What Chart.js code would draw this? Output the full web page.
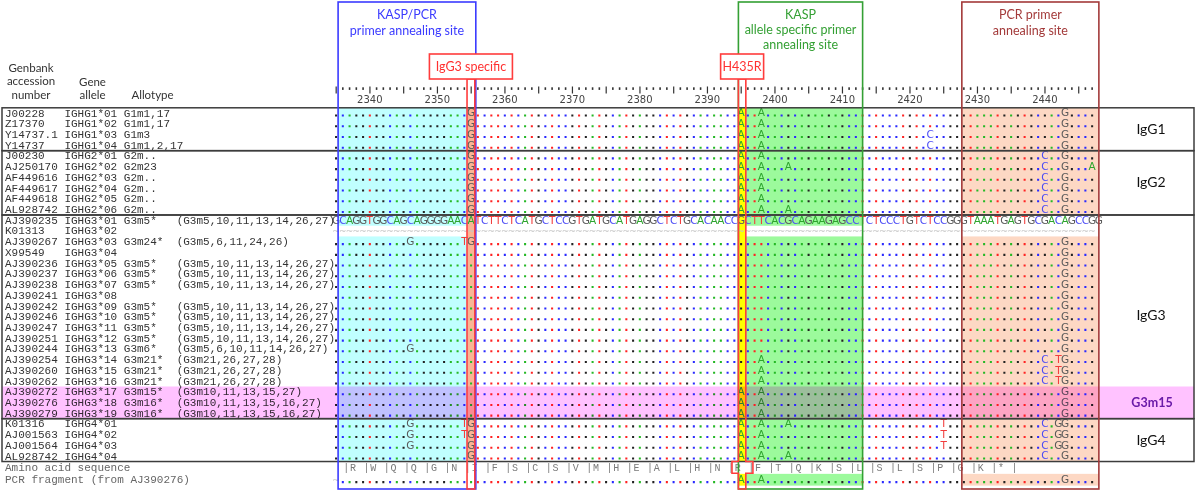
<!DOCTYPE html>
<html>
<head>
<meta charset="utf-8">
<title>IGHG alignment</title>
<script src="https://cdn.jsdelivr.net/npm/chart.js@4.4.1/dist/chart.umd.min.js"></script>
<style>
  html, body { margin: 0; padding: 0; background: #fff; }
  #wrap { width: 1196px; height: 492px; }
</style>
</head>
<body>
<div id="wrap"><canvas id="chart"></canvas></div>
<script>
// reference sequence (AJ390235 / IGHG3*01), first base sits at position 2335
var refSeq = "GCAGGTGGCAGCAGGGGAACATCTTCTCATGCTCCGTGATGCATGAGGCTCTGCACAACCGCTTCACGCAGAAGAGCCTCTCCCTGTCTCCGGGTAAATGAGTGCGACAGCCGG";
var firstPos = 2335;
var lastDotPos = 2447;
var rulerLabels = [2340, 2350, 2360, 2370, 2380, 2390, 2400, 2410, 2420, 2430, 2440];

var accessions = ["J00228", "Z17370", "Y14737.1", "Y14737",
  "J00230", "AJ250170", "AF449616", "AF449617", "AF449618", "AL928742",
  "AJ390235", "K01313", "AJ390267", "X99549", "AJ390236", "AJ390237", "AJ390238", "AJ390241",
  "AJ390242", "AJ390246", "AJ390247", "AJ390251", "AJ390244", "AJ390254", "AJ390260", "AJ390262",
  "AJ390272", "AJ390276", "AJ390279",
  "K01316", "AJ001563", "AJ001564", "AL928742"];
var alleles = ["IGHG1*01", "IGHG1*02", "IGHG1*03", "IGHG1*04",
  "IGHG2*01", "IGHG2*02", "IGHG2*03", "IGHG2*04", "IGHG2*05", "IGHG2*06",
  "IGHG3*01", "IGHG3*02", "IGHG3*03", "IGHG3*04", "IGHG3*05", "IGHG3*06", "IGHG3*07", "IGHG3*08",
  "IGHG3*09", "IGHG3*10", "IGHG3*11", "IGHG3*12", "IGHG3*13", "IGHG3*14", "IGHG3*15", "IGHG3*16",
  "IGHG3*17", "IGHG3*18", "IGHG3*19",
  "IGHG4*01", "IGHG4*02", "IGHG4*03", "IGHG4*04"];
var allotypes = ["G1m1,17", "G1m1,17", "G1m3", "G1m1,2,17",
  "G2m..", "G2m23", "G2m..", "G2m..", "G2m..", "G2m..",
  "G3m5*", "", "G3m24*", "", "G3m5*", "G3m5*", "G3m5*", "",
  "G3m5*", "G3m5*", "G3m5*", "G3m5*", "G3m6*", "G3m21*", "G3m21*", "G3m21*",
  "G3m15*", "G3m16*", "G3m16*",
  "", "", "", ""];
var allotypeSets = ["", "", "", "", "", "", "", "", "", "",
  "(G3m5,10,11,13,14,26,27)", "", "(G3m5,6,11,24,26)", "",
  "(G3m5,10,11,13,14,26,27)", "(G3m5,10,11,13,14,26,27)", "(G3m5,10,11,13,14,26,27)", "",
  "(G3m5,10,11,13,14,26,27)", "(G3m5,10,11,13,14,26,27)", "(G3m5,10,11,13,14,26,27)",
  "(G3m5,10,11,13,14,26,27)", "(G3m5,6,10,11,14,26,27)",
  "(G3m21,26,27,28)", "(G3m21,26,27,28)", "(G3m21,26,27,28)",
  "(G3m10,11,13,15,27)", "(G3m10,11,13,15,16,27)", "(G3m10,11,13,15,16,27)",
  "", "", "", ""];
// bases that differ from the reference: position + base
var variants = [
  "2355G 2395A 2398A 2443G",
  "2355G 2395A 2398A 2443G",
  "2355G 2395A 2398A 2423C 2443G",
  "2355G 2395A 2398A 2423C 2443G",
  "2355G 2395A 2398A 2440C 2443G",
  "2355G 2395A 2398A 2402A 2440C 2443G 2447A",
  "2355G 2395A 2398A 2440C 2443G",
  "2355G 2395A 2398A 2440C 2443G",
  "2355G 2395A 2398A 2440C 2443G",
  "2355G 2395A 2398A 2402A 2440C 2443G",
  "",
  "",
  "2346G 2354T 2355G 2443G",
  "2443G", "2443G", "2443G", "2443G", "2443G", "2443G", "2443G", "2443G", "2443G",
  "2346G 2443G",
  "2398A 2440C 2442T 2443G",
  "2398A 2440C 2442T 2443G",
  "2398A 2440C 2442T 2443G",
  "2395A 2398A 2443G",
  "2395A 2398A 2443G",
  "2395A 2398A 2443G",
  "2346G 2354T 2355G 2395A 2398A 2402A 2425T 2440C 2442G 2443G",
  "2346G 2354T 2355G 2395A 2398A 2425T 2440C 2442G 2443G",
  "2346G 2355G 2395A 2398A 2425T 2440C 2442G 2443G",
  "2355G 2395A 2398A 2402A 2440C 2443G"];
var refRow = 10, gapRow = 11;
var groupNames = ["IgG1", "IgG2", "IgG3", "IgG4"];
var groupFirst = [0, 4, 10, 29];
var groupLast = [3, 9, 28, 32];
var g3m15First = 26, g3m15Last = 28;

var aminoAcids = "RWQQGNIFSCSVMHEALHNRFTQKSLSLSPGK*";
var aminoStart = 2337;
var pcrStart = 2336;
var pcrVariants = "2395A 2398A 2443G";

// highlighted sites (sequence coordinates)
var kaspPcrSite = [2335.3, 2355.7];
var igg3Site = [2354.5, 2355.5];
var h435rSite = [2394.6, 2395.6];
var kaspAlleleSite = [2394.6, 2413.0];
var pcrPrimerSite = [2427.7, 2448.0];

// layout
var aminoRow = 33.1, pcrRow = 34.2, dotDrop = 0.22;
var letterColor = { A: "#2ea52e", C: "#4b4bf5", G: "#5a5a5a", T: "#f23c3c" };
var dotColor = { A: "#25b825", C: "#2a2aff", G: "#222222", T: "#ff2222" };

function parseVar(s) {
  var out = {};
  if (!s) return out;
  s.split(" ").forEach(function (t) { out[+t.slice(0, 4)] = t.slice(4); });
  return out;
}

var dotPoints = [], dotColors = [];
for (var r = 0; r < accessions.length; r++) {
  if (r === refRow || r === gapRow) continue;
  var v = parseVar(variants[r]);
  for (var p = firstPos; p <= lastDotPos; p++) {
    if (v[p]) continue;
    dotPoints.push({ x: p, y: r + dotDrop });
    dotColors.push(dotColor[refSeq[p - firstPos]]);
  }
}
var pv = parseVar(pcrVariants);
for (var q = pcrStart; q <= lastDotPos; q++) {
  if (pv[q]) continue;
  dotPoints.push({ x: q, y: pcrRow + dotDrop });
  dotColors.push(dotColor[refSeq[q - firstPos]]);
}

var alignPlugin = {
  id: "align",
  beforeDatasetsDraw: function (chart) {
    var ctx = chart.ctx;
    var X = function (val) { return chart.scales.x.getPixelForValue(val); };
    var Y = function (val) { return chart.scales.y.getPixelForValue(val); };
    function band(span, r0, r1, col) {
      ctx.fillStyle = col;
      ctx.fillRect(X(span[0]), Y(r0), X(span[1]) - X(span[0]), Y(r1) - Y(r0));
    }
    ctx.save();
    // background of the three primer sites (no data row K01313 stays white)
    var cyanStart = [kaspPcrSite[0], igg3Site[0]];
    var greenStart = [h435rSite[1], kaspAlleleSite[1]];
    band(cyanStart, -0.5, gapRow - 0.5, "#c0ffff");
    band(cyanStart, gapRow + 0.5, 32.5, "#c0ffff");
    band(greenStart, -0.5, gapRow - 0.5, "#9cfa9c");
    band(greenStart, gapRow + 0.5, 32.5, "#9cfa9c");
    band(greenStart, pcrRow - 0.55, pcrRow + 0.55, "#9cfa9c");
    band(pcrPrimerSite, -0.5, refRow - 0.5, "#fdd8c4");
    band(pcrPrimerSite, gapRow + 0.5, 32.5, "#fdd8c4");
    band(pcrPrimerSite, pcrRow - 0.55, pcrRow + 0.55, "#fdd8c4");
    band(igg3Site, -0.5, 32.5, "#f9b594");
    band(h435rSite, -0.5, 32.5, "#ffff00");
    band(h435rSite, pcrRow - 0.55, pcrRow + 0.55, "#ffff00");
    ctx.restore();
  },
  afterDatasetsDraw: function (chart) {
    var ctx = chart.ctx;
    var X = function (val) { return chart.scales.x.getPixelForValue(val); };
    var Y = function (val) { return chart.scales.y.getPixelForValue(val); };
    ctx.save();
    ctx.textBaseline = "middle";
    ctx.textAlign = "center";

    // bases that differ, and the full reference row
    ctx.font = "10.5px 'DejaVu Sans'";
    function letter(pos, row, b) {
      ctx.fillStyle = letterColor[b];
      ctx.fillText(b, X(pos), Y(row) + 0.5);
    }
    for (var r = 0; r < accessions.length; r++) {
      if (r === refRow) {
        for (var i = 0; i < refSeq.length; i++) letter(firstPos + i, r, refSeq[i]);
        continue;
      }
      var v = parseVar(variants[r]);
      Object.keys(v).forEach(function (k) { letter(+k, r, v[k]); });
    }
    var pv = parseVar(pcrVariants);
    Object.keys(pv).forEach(function (k) { letter(+k, pcrRow, pv[k]); });

    // missing data marks
    ctx.font = "9px 'DejaVu Sans'";
    ctx.fillStyle = "#c4c4c4";
    for (var p = firstPos; p <= lastDotPos; p++) ctx.fillText("~", X(p), Y(gapRow) + 1);
    ctx.fillText("~", X(firstPos), Y(pcrRow) + 1);

    // amino acid translation
    ctx.font = "10px 'Liberation Mono'";
    ctx.fillStyle = "#7a7a7a";
    for (var a = 0; a < aminoAcids.length; a++) {
      var cs = aminoStart + a * 3;
      ctx.fillText("|", X(cs - 0.5), Y(aminoRow));
      ctx.fillText(aminoAcids[a], X(cs + 0.5), Y(aminoRow));
    }
    ctx.fillText("|", X(aminoStart + aminoAcids.length * 3 - 0.5), Y(aminoRow));

    // row labels
    ctx.textAlign = "left";
    ctx.font = "11px 'Liberation Mono'";
    ctx.fillStyle = "#333";
    for (var j = 0; j < accessions.length; j++) {
      var txt = accessions[j].padEnd(9) + alleles[j].padEnd(9) + allotypes[j];
      if (allotypeSets[j]) txt = txt.padEnd(26) + allotypeSets[j];
      ctx.fillText(txt, 5, Y(j) + 0.5);
    }
    ctx.fillStyle = "#666";
    ctx.fillText("Amino acid sequence", 5, Y(aminoRow));
    ctx.fillText("PCR fragment (from AJ390276)", 5, Y(pcrRow));

    // column headers
    ctx.textAlign = "center";
    ctx.font = "11.5px Lato";
    ctx.fillStyle = "#333";
    ctx.fillText("Genbank", 31, 68);
    ctx.fillText("accession", 31, 81.5);
    ctx.fillText("number", 31, 95);
    ctx.fillText("Gene", 92.5, 82);
    ctx.fillText("allele", 92.5, 95);
    ctx.fillText("Allotype", 152.5, 95);

    // G3m15 rows
    ctx.globalCompositeOperation = "multiply";
    ctx.fillStyle = "#ffc2ff";
    ctx.fillRect(2, Y(g3m15First - 0.5), 1192, Y(g3m15Last + 0.5) - Y(g3m15First - 0.5));
    ctx.globalCompositeOperation = "source-over";

    // group boxes and group names
    ctx.strokeStyle = "#3c3c3c";
    ctx.lineWidth = 1.5;
    for (var g = 0; g < groupNames.length; g++) {
      var t = Y(groupFirst[g] - 0.5), b = Y(groupLast[g] + 0.5);
      ctx.strokeRect(2, t, 1192, b - t);
    }
    ctx.font = "14px Lato";
    ctx.fillStyle = "#111";
    ctx.fillText("IgG1", 1151, Y(1.5));
    ctx.fillText("IgG2", 1151, Y(6.5));
    ctx.fillText("IgG3", 1151, Y(18.9));
    ctx.fillText("IgG4", 1151, Y(30.5));
    ctx.font = "bold 12.5px Lato";
    ctx.fillStyle = "#6a1aa8";
    ctx.fillText("G3m15", 1152, Y(27));

    // position ruler
    ctx.fillStyle = "#333";
    for (var s = firstPos; s <= lastDotPos; s++) {
      if (s % 5 === 0) ctx.fillRect(X(s) - 0.5, 86.5, 1.2, 7);
      else ctx.fillRect(X(s) - 0.8, 87.3, 1.6, 2.6);
    }

    // primer site frames
    function frame(span, col, lines, ys) {
      var x0 = X(span[0]), x1 = X(span[1]);
      ctx.strokeStyle = col;
      ctx.lineWidth = 1.6;
      ctx.strokeRect(x0, 2, x1 - x0, 487);
      ctx.fillStyle = col;
      ctx.font = "12.5px Lato";
      lines.forEach(function (l, k) { ctx.fillText(l, (x0 + x1) / 2, ys[k]); });
    }
    frame(kaspPcrSite, "#3b3bff", ["KASP/PCR", "primer annealing site"], [15, 31]);
    frame(kaspAlleleSite, "#34a034", ["KASP", "allele specific primer", "annealing site"], [15, 30, 45]);
    frame(pcrPrimerSite, "#a33a3a", ["PCR primer", "annealing site"], [15, 31]);

    // red call-outs
    ctx.strokeStyle = "#ff3c3c";
    ctx.lineWidth = 1.6;
    var ix0 = X(igg3Site[0] - 0.1), ix1 = X(igg3Site[1] + 0.05);
    ctx.strokeRect(ix0, 79, ix1 - ix0, 410);
    var hx0 = X(h435rSite[0]), hx1 = X(h435rSite[1] + 0.1);
    var wx0 = X(h435rSite[0] - 0.95), wx1 = X(h435rSite[1] + 1.15);
    var ya = Y(32.5), yb = Y(33.6);
    ctx.beginPath();
    ctx.moveTo(hx0, 79); ctx.lineTo(hx0, ya); ctx.lineTo(wx0, ya); ctx.lineTo(wx0, yb);
    ctx.lineTo(hx0, yb); ctx.lineTo(hx0, 489); ctx.lineTo(hx1, 489); ctx.lineTo(hx1, yb);
    ctx.lineTo(wx1, yb); ctx.lineTo(wx1, ya); ctx.lineTo(hx1, ya); ctx.lineTo(hx1, 79);
    ctx.closePath();
    ctx.stroke();

    function callout(label, cx, w) {
      ctx.fillStyle = "#fff";
      ctx.fillRect(cx - w / 2, 54, w, 25);
      ctx.strokeRect(cx - w / 2, 54, w, 25);
      ctx.fillStyle = "#ff3030";
      ctx.font = "12.5px Lato";
      ctx.fillText(label, cx, 66.5);
    }
    callout("IgG3 specific", (ix0 + ix1) / 2, 83);
    callout("H435R", (hx0 + hx1) / 2, 43);
    ctx.restore();
  }
};

new Chart(document.getElementById("chart"), {
  type: "scatter",
  data: {
    datasets: [{
      data: dotPoints,
      pointStyle: "rect",
      pointRadius: 1.45,
      pointBorderWidth: 0,
      pointBackgroundColor: dotColors,
      showLine: false
    }]
  },
  options: {
    responsive: true,
    maintainAspectRatio: false,
    animation: false,
    events: [],
    layout: { padding: { left: 0, right: 97.8, top: 0, bottom: 0 } },
    plugins: { legend: { display: false }, tooltip: { enabled: false } },
    scales: {
      x: {
        type: "linear",
        position: "top",
        min: 2334.5,
        max: 2447.9,
        grid: { display: false, drawTicks: false },
        border: { display: false },
        ticks: {
          padding: 1, maxRotation: 0, autoSkip: false, color: "#444",
          font: { family: "DejaVu Sans", size: 10 },
          callback: function (val) { return String(val); }
        },
        afterBuildTicks: function (s) { s.ticks = rulerLabels.map(function (val) { return { value: val }; }); },
        afterFit: function (s) { s.height = 107.8; }
      },
      y: {
        type: "linear",
        reverse: true,
        min: -0.5,
        max: 34.97,
        grid: { display: false },
        border: { display: false },
        ticks: { display: false },
        afterFit: function (s) { s.width = 332.7; }
      }
    }
  },
  plugins: [alignPlugin]
});
</script>
</body>
</html>
